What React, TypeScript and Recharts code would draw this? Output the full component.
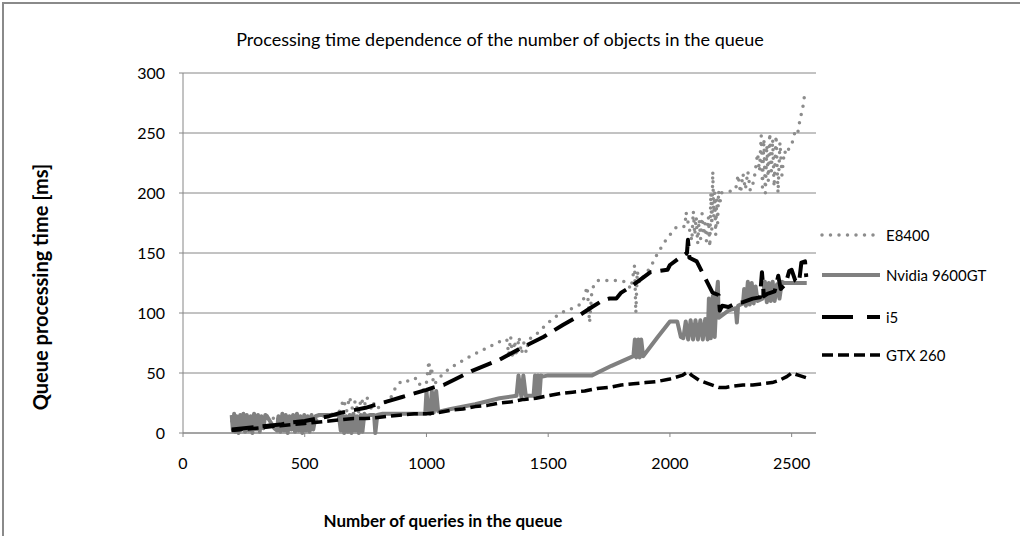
import { LineChart, Line, XAxis, YAxis, CartesianGrid } from 'recharts';

const FONT = 'Lato, "DejaVu Sans", sans-serif';
const GRID = '#868686';

const xTicks = [0, 500, 1000, 1500, 2000, 2500];
const yTicks = [0, 50, 100, 150, 200, 250, 300];

// [queue size, ms]
const e8400: [number, number][] = [
  [200, 10], [230, 5], [260, 14], [290, 4], [320, 12], [350, 6], [380, 15], [410, 3], [440, 12], [470, 5],
  [500, 14], [530, 6], [560, 13], [600, 15], [640, 17], [660, 28], [672, 18], [684, 30], [696, 20], [708, 27],
  [720, 16], [732, 29], [744, 22], [756, 30], [768, 18], [780, 26], [795, 20], [820, 24], [850, 28], [878, 40],
  [905, 44], [932, 43], [960, 46], [985, 35], [1000, 42], [1010, 60], [1015, 47], [1020, 55], [1030, 40], [1045, 44],
  [1070, 50], [1120, 57], [1180, 64], [1240, 70], [1300, 76], [1330, 78], [1338, 65], [1346, 80], [1354, 62], [1362, 77],
  [1370, 64], [1380, 80], [1390, 66], [1400, 75], [1410, 67], [1420, 78], [1450, 82], [1500, 92], [1550, 100], [1600, 104],
  [1640, 108], [1660, 122], [1670, 92], [1680, 120], [1700, 127], [1780, 127], [1820, 126], [1840, 120], [1855, 140], [1860, 100],
  [1866, 135], [1875, 125], [1890, 130], [1920, 138], [1950, 150], [1987, 162], [2028, 172], [2062, 172], [2066, 184], [2090, 160],
  [2096, 185], [2102, 165], [2108, 180], [2114, 158], [2120, 178], [2126, 162], [2132, 183], [2138, 165], [2144, 175], [2150, 160],
  [2158, 180], [2164, 155], [2168, 200], [2172, 170], [2176, 218], [2180, 180], [2184, 200], [2188, 165], [2192, 195], [2196, 175],
  [2200, 202], [2205, 190], [2210, 200], [2240, 201], [2270, 203], [2280, 215], [2290, 200], [2300, 216], [2310, 203], [2320, 218],
  [2330, 202], [2345, 210], [2360, 233], [2368, 218], [2375, 248], [2380, 205], [2386, 245], [2392, 200], [2398, 240], [2404, 210],
  [2410, 250], [2416, 215], [2422, 245], [2428, 205], [2436, 248], [2444, 200], [2452, 242], [2460, 215], [2470, 235], [2480, 232],
  [2490, 238], [2500, 240], [2515, 252], [2525, 250], [2535, 262], [2545, 270], [2552, 280], [2555, 275],
];

const nvidia: [number, number][] = [
  [200, 15], [205, 2], [210, 16], [215, 1], [220, 14], [228, 0], [235, 15], [240, 3], [248, 16], [255, 1],
  [262, 15], [270, 2], [278, 14], [285, 0], [292, 16], [300, 3], [308, 15], [315, 1], [322, 14], [330, 4],
  [338, 15], [345, 14], [360, 9], [375, 4], [386, 2], [392, 14], [400, 1], [408, 16], [415, 2], [422, 15],
  [430, 0], [437, 14], [445, 3], [452, 15], [460, 1], [468, 16], [475, 2], [482, 14], [490, 0], [498, 15],
  [505, 2], [512, 14], [520, 1], [528, 15], [535, 3], [545, 14], [560, 15], [600, 15], [640, 15], [648, 2],
  [655, 16], [662, 0], [670, 14], [677, 1], [685, 15], [692, 0], [700, 16], [707, 2], [715, 14], [722, 0],
  [730, 15], [737, 1], [745, 16], [752, 14], [770, 15], [785, 15], [790, 0], [798, 15], [820, 16], [880, 16],
  [950, 16], [995, 16], [1000, 35], [1008, 17], [1015, 16], [1022, 35], [1030, 17], [1040, 35], [1048, 18], [1055, 18],
  [1100, 20], [1200, 24], [1300, 29], [1370, 31], [1378, 48], [1390, 30], [1398, 48], [1408, 31], [1440, 31], [1446, 48],
  [1452, 30], [1458, 48], [1464, 30], [1470, 48], [1476, 47], [1500, 48], [1600, 48], [1680, 48], [1760, 56], [1850, 64],
  [1856, 78], [1862, 63], [1870, 78], [1876, 63], [1882, 78], [1890, 64], [1950, 80], [2000, 93], [2030, 93], [2045, 80],
  [2055, 79], [2065, 93], [2075, 78], [2085, 94], [2095, 78], [2105, 94], [2115, 78], [2125, 94], [2135, 78], [2145, 95],
  [2155, 78], [2160, 112], [2168, 79], [2176, 114], [2184, 80], [2192, 116], [2197, 126], [2200, 96], [2240, 102], [2270, 104],
  [2275, 92], [2280, 106], [2300, 108], [2305, 120], [2312, 106], [2320, 126], [2328, 107], [2336, 125], [2344, 108], [2352, 122],
  [2360, 110], [2380, 112], [2390, 126], [2398, 109], [2406, 125], [2414, 110], [2422, 126], [2430, 110], [2440, 124], [2450, 112],
  [2460, 126], [2470, 125], [2562, 125],
];

const i5: [number, number][] = [
  [200, 3], [250, 4], [300, 5], [350, 6], [400, 7], [450, 9], [500, 10], [550, 12], [600, 14], [650, 17],
  [700, 19], [750, 21], [800, 24], [850, 27], [900, 30], [950, 33], [1000, 36], [1030, 38], [1070, 40], [1120, 45],
  [1190, 52], [1250, 57], [1300, 61], [1345, 66], [1400, 72], [1480, 80], [1560, 90], [1620, 97], [1680, 105], [1720, 110],
  [1750, 112], [1780, 112], [1800, 117], [1840, 122], [1880, 128], [1920, 134], [1990, 136], [2000, 140], [2040, 146], [2070, 150],
  [2074, 161], [2080, 146], [2110, 143], [2140, 131], [2175, 117], [2200, 115], [2205, 102], [2215, 106], [2240, 105], [2270, 108],
  [2300, 109], [2340, 112], [2370, 113], [2378, 134], [2386, 114], [2400, 116], [2430, 118], [2445, 131], [2455, 120], [2475, 124],
  [2490, 135], [2500, 136], [2515, 127], [2530, 125], [2540, 142], [2555, 143], [2560, 130],
];

const gtx260: [number, number][] = [
  [200, 2], [250, 3], [300, 4], [350, 5], [400, 6], [450, 7], [500, 8], [550, 9], [600, 10], [650, 11],
  [700, 12], [750, 12], [800, 13], [850, 14], [900, 15], [950, 16], [1000, 16], [1050, 17], [1100, 19], [1150, 20],
  [1200, 22], [1250, 23], [1300, 25], [1350, 26], [1400, 28], [1450, 29], [1500, 31], [1550, 33], [1600, 34], [1650, 35],
  [1700, 37], [1750, 38], [1800, 40], [1850, 41], [1900, 42], [1950, 43], [2000, 45], [2050, 48], [2075, 51], [2090, 48],
  [2120, 44], [2160, 41], [2200, 38], [2230, 38], [2260, 39], [2300, 40], [2340, 40], [2380, 41], [2420, 42], [2450, 44],
  [2480, 47], [2500, 50], [2530, 48], [2560, 46],
];

const toPoints = (arr: [number, number][]) => arr.map(([x, y]) => ({ x, y }));

const series = [
  { name: 'E8400', data: e8400, stroke: '#8c8c8c', width: 3.5, dash: '0 8.5', cap: 'round' as const },
  { name: 'Nvidia 9600GT', data: nvidia, stroke: '#808080', width: 4, dash: undefined, cap: 'butt' as const },
  { name: 'i5', data: i5, stroke: '#000000', width: 4, dash: '22 9', cap: 'butt' as const },
  { name: 'GTX 260', data: gtx260, stroke: '#000000', width: 3.5, dash: '11 5', cap: 'butt' as const },
];

const legendY = [235, 275, 317, 355];

export default function App() {
  return (
    <div style={{ position: 'absolute', left: 0, top: 0, width: 1020, height: 536, background: '#fff', overflow: 'hidden', fontFamily: FONT }}>
      <div style={{ position: 'absolute', left: 2, top: 2, width: 1040, height: 560, border: '2px solid #8a8a8a' }} />
      <LineChart width={1020} height={536} margin={{ top: 73, right: 204, left: 123, bottom: 73 }}>
        <CartesianGrid horizontal vertical={false} stroke={GRID} />
        <XAxis
          type="number"
          dataKey="x"
          domain={[0, 2600]}
          ticks={xTicks}
          height={30}
          stroke={GRID}
          tickSize={4}
          tickMargin={21}
          tick={{ fontFamily: FONT, fontSize: 16, fill: '#000' }}
        />
        <YAxis
          type="number"
          domain={[0, 300]}
          ticks={yTicks}
          width={60}
          stroke={GRID}
          tickSize={4}
          tickMargin={14}
          tick={{ fontFamily: FONT, fontSize: 16, fill: '#000' }}
        />
        {series.map((s) => (
          <Line
            key={s.name}
            data={toPoints(s.data)}
            dataKey="y"
            name={s.name}
            type="linear"
            stroke={s.stroke}
            strokeWidth={s.width}
            strokeDasharray={s.dash}
            strokeLinecap={s.cap}
            strokeLinejoin="round"
            dot={false}
            isAnimationActive={false}
          />
        ))}
      </LineChart>
      <div style={{ position: 'absolute', left: 0, width: 1000, top: 28, textAlign: 'center', fontSize: 18 }}>
        Processing time dependence of the number of objects in the queue
      </div>
      <div style={{ position: 'absolute', left: 193, width: 500, top: 510, textAlign: 'center', fontSize: 17, fontWeight: 'bold' }}>
        Number of queries in the queue
      </div>
      <div style={{ position: 'absolute', left: 40, top: 288, width: 0, height: 0 }}>
        <div style={{ position: 'absolute', left: -160, top: -13, width: 320, textAlign: 'center', transform: 'rotate(-90deg)', fontSize: 20, fontWeight: 'bold', whiteSpace: 'nowrap' }}>
          Queue processing time [ms]
        </div>
      </div>
      {series.map((s, i) => (
        <div key={s.name} style={{ position: 'absolute', left: 820, top: legendY[i] - 12, height: 24, display: 'flex', alignItems: 'center', fontSize: 15 }}>
          <svg width={64} height={10}>
            <line x1={2} y1={5} x2={60} y2={5} stroke={s.stroke} strokeWidth={s.width} strokeDasharray={i === 2 ? '31 14' : s.dash} strokeLinecap={s.cap} />
          </svg>
          <span style={{ marginLeft: 2 }}>{s.name}</span>
        </div>
      ))}
    </div>
  );
}
